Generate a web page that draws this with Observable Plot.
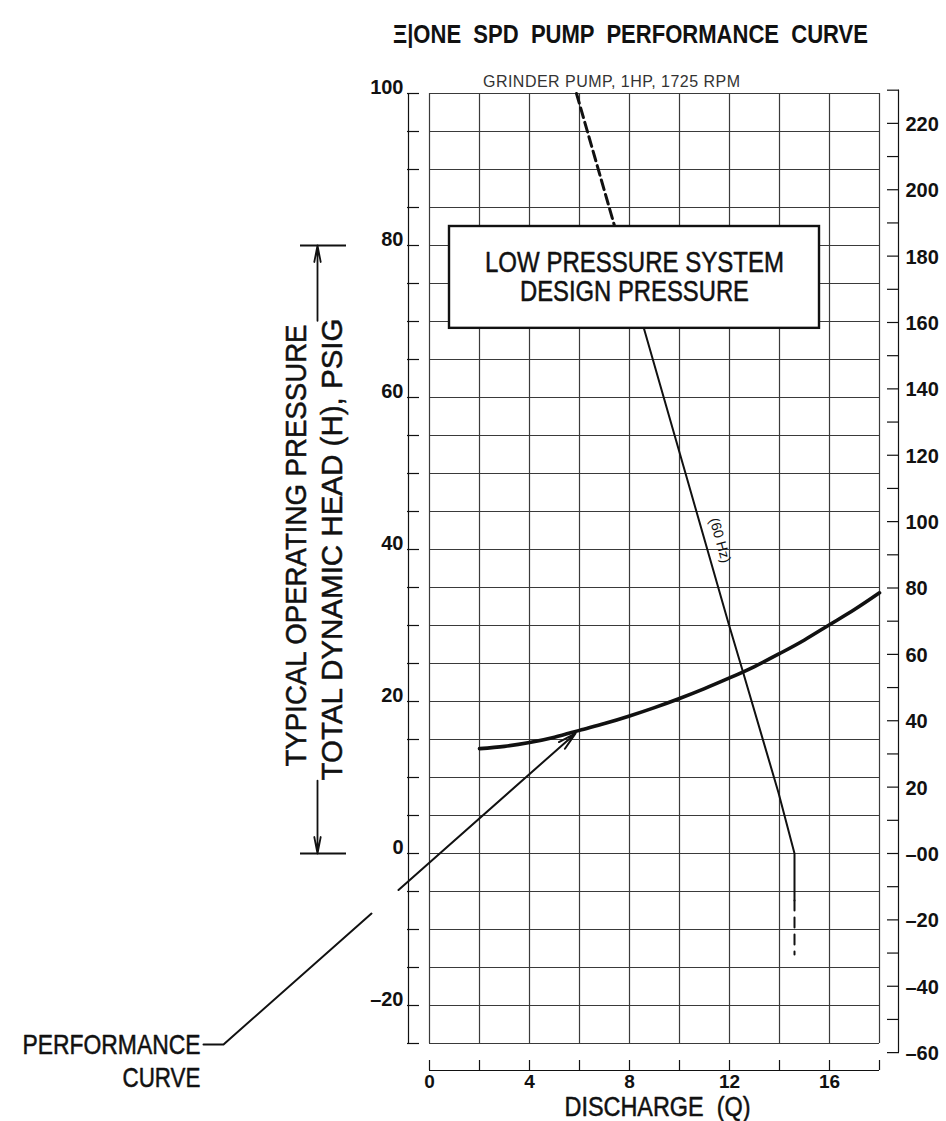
<!DOCTYPE html>
<html>
<head>
<meta charset="utf-8">
<script src="https://cdn.jsdelivr.net/npm/d3@7"></script>
<script src="https://cdn.jsdelivr.net/npm/@observablehq/plot@0.6"></script>
<style>
  html, body { margin: 0; padding: 0; background: #fff; }
  #chart svg { display: block; }
</style>
</head>
<body>
<div id="chart"></div>
<script>
// ---------- texts ----------
const titleText = "Ξ|ONE  SPD  PUMP  PERFORMANCE  CURVE";
const subtitleText = "GRINDER PUMP, 1HP, 1725 RPM";
const xAxisTitle = "DISCHARGE  (Q)";
const yAxisTitle1 = "TYPICAL OPERATING PRESSURE";
const yAxisTitle2 = "TOTAL DYNAMIC HEAD (H), PSIG";
const boxLine1 = "LOW PRESSURE SYSTEM";
const boxLine2 = "DESIGN PRESSURE";
const curveLabel = "(60 Hz)";
const perfLabel1 = "PERFORMANCE";
const perfLabel2 = "CURVE";

// ---------- ticks ----------
const xTicks = [0, 2, 4, 6, 8, 10, 12, 14, 16, 18];
const xLabels = [0, 4, 8, 12, 16];
const psiTicks = [-25, -20, -15, -10, -5, 0, 5, 10, 15, 20, 25, 30, 35, 40, 45, 50, 55, 60, 65, 70, 75, 80, 85, 90, 95, 100];
const psiLabels = [100, 80, 60, 40, 20, 0, -20];
const ftTicks = [-60, -50, -40, -30, -20, -10, 0, 10, 20, 30, 40, 50, 60, 70, 80, 90, 100, 110, 120, 130, 140, 150, 160, 170, 180, 190, 200, 210, 220, 230];
const ftLabels = [220, 200, 180, 160, 140, 120, 100, 80, 60, 40, 20, 0, -20, -40, -60];
const FT_PER_PSI = 2.29; // right scale (feet) read against the left scale (psi)

// ---------- series (Q = discharge, H = psi) ----------
// pump curve, 60 Hz
const pumpTopQ = [5.88, 7.80];
const pumpTopH = [100, 78];
const pumpQ = [7.80, 10.32, 11.96, 12.52, 13.96, 14.60, 14.60];
const pumpH = [78, 49.1, 30.3, 24.1, 8.0, 0, -6.2];
const pumpTailQ = [14.60, 14.60];
const pumpTailH = [-6.2, -13.3];
// system (performance) curve
const sysQ = [2, 3, 4, 5, 6, 7, 8, 9, 10, 11, 12, 13, 14, 15, 16, 17, 18];
const sysH = [13.8, 14.1, 14.6, 15.3, 16.2, 17.1, 18.1, 19.2, 20.4, 21.7, 23.1, 24.6, 26.3, 28.1, 30.1, 32.1, 34.3];

const zip = (qs, hs) => qs.map((q, i) => ({q, h: hs[i]}));

// ---------- annotation layout (in chart units) ----------
const designBox = {q1: 0.8, q2: 15.6, h1: 69.1, h2: 82.5};
const leaderA = [{q: -9.04, h: -25.13}, {q: -8.24, h: -25.13}, {q: -2.32, h: -7.9}];
const leaderB = {q1: -1.24, h1: -4.8, q2: 5.84, h2: 15.8};
const dimQ = -4.48, dimBar1 = -5.16, dimBar2 = -3.32;
const dimLo = 0, dimHi = 80, dimGapLo = 9.6, dimGapHi = 70.1;

const sans = "'Liberation Sans',Arial,sans-serif";
const ink = "#111";
const gridInk = "#3a3a3a";

const fmtFt = f => f === 0 ? "–00" : (f < 0 ? "–" + (-f) : String(f));
const fmtPsi = p => p < 0 ? "–" + (-p) : String(p);

const lettering = {fontFamily: sans, fill: ink, stroke: ink, strokeWidth: 0.5};

const chart = Plot.plot({
  width: 946,
  height: 1121,
  marginLeft: 429,
  marginRight: 67,
  marginTop: 93,
  marginBottom: 78,
  x: {domain: [0, 18], axis: null},
  y: {domain: [-25, 100], axis: null},
  style: {background: "white", color: ink, overflow: "visible"},
  marks: [
    // grid
    Plot.gridX(xTicks, {stroke: gridInk, strokeOpacity: 1, strokeWidth: 1.2}),
    Plot.gridY(psiTicks, {stroke: gridInk, strokeOpacity: 1, strokeWidth: 1.2}),

    // pump curve
    Plot.line(zip(pumpTopQ, pumpTopH), {x: "q", y: "h", stroke: ink, strokeWidth: 3, strokeDasharray: "10,5"}),
    Plot.line(zip(pumpQ, pumpH), {x: "q", y: "h", stroke: ink, strokeWidth: 2}),
    Plot.line(zip(pumpTailQ, pumpTailH), {x: "q", y: "h", stroke: ink, strokeWidth: 2, strokeDasharray: "10,7"}),

    // design pressure box
    Plot.rect([designBox], {x1: "q1", x2: "q2", y1: "h1", y2: "h2", fill: "white", stroke: ink, strokeWidth: 2.4}),
    Plot.text([boxLine1], {x: (designBox.q1 + designBox.q2) / 2, y: 77.8, text: d => d, fontSize: 29, ...lettering}),
    Plot.text([boxLine2], {x: (designBox.q1 + designBox.q2) / 2, y: 73.9, text: d => d, fontSize: 29, ...lettering}),

    // system curve
    Plot.line(zip(sysQ, sysH), {x: "q", y: "h", stroke: ink, strokeWidth: 3.6, curve: "natural"}),

    // curve label
    Plot.text([curveLabel], {x: 11.62, y: 41.2, text: d => d, rotate: 74, fontFamily: sans, fontSize: 14, fill: ink}),

    // performance curve leader
    Plot.line(leaderA, {x: "q", y: "h", stroke: ink, strokeWidth: 2}),
    Plot.arrow([leaderB], {x1: "q1", y1: "h1", x2: "q2", y2: "h2", stroke: ink, strokeWidth: 2, headLength: 14, headAngle: 28}),
    Plot.text([perfLabel1], {x: leaderA[0].q, y: leaderA[0].h, text: d => d, textAnchor: "end", dx: -3, dy: 1, fontSize: 28, ...lettering}),
    Plot.text([perfLabel2], {x: leaderA[0].q, y: leaderA[0].h, text: d => d, textAnchor: "end", dx: -3, dy: 34, fontSize: 28, ...lettering}),

    // left axis (psi)
    Plot.ruleX([0], {y1: -25, y2: 100, dx: -21, stroke: ink, strokeWidth: 1.2}),
    Plot.axisY({anchor: "left", ticks: psiTicks, tickSize: 12, dx: -10, tickFormat: () => "", label: null, stroke: ink, strokeWidth: 1.2}),
    Plot.text(psiLabels, {y: d => d, text: fmtPsi, frameAnchor: "left", dx: -26, dy: -6, textAnchor: "end", lineAnchor: "middle", fontFamily: sans, fontWeight: "bold", fontSize: 20, fill: ink}),

    // right axis (feet)
    Plot.ruleX([18], {y1: -60 / FT_PER_PSI, y2: 230 / FT_PER_PSI, dx: 19, stroke: ink, strokeWidth: 1.2}),
    Plot.axisY({anchor: "right", ticks: ftTicks.map(f => f / FT_PER_PSI), tickSize: 12, dx: 7, tickFormat: () => "", label: null, stroke: ink, strokeWidth: 1.2}),
    Plot.text(ftLabels, {y: f => f / FT_PER_PSI, text: fmtFt, frameAnchor: "right", dx: 26, dy: 1, textAnchor: "start", lineAnchor: "middle", fontFamily: sans, fontWeight: "bold", fontSize: 20, fill: ink}),

    // bottom axis (discharge)
    Plot.ruleY([-25], {x1: 0, x2: 18, dy: 27, stroke: ink, strokeWidth: 1.2}),
    Plot.axisX({anchor: "bottom", ticks: xTicks, tickSize: 10, dy: 17, tickFormat: () => "", label: null, stroke: ink, strokeWidth: 1.2}),
    Plot.text(xLabels, {x: d => d, text: d => String(d), frameAnchor: "bottom", dy: 38, textAnchor: "middle", lineAnchor: "middle", fontFamily: sans, fontWeight: "bold", fontSize: 19, fill: ink}),
    Plot.text([xAxisTitle], {frameAnchor: "bottom", dx: 3, dy: 63.5, textAnchor: "middle", lineAnchor: "middle", text: d => d, fontSize: 27, ...lettering}),

    // dimension line on the left
    Plot.ruleY([dimLo, dimHi], {x1: dimBar1, x2: dimBar2, stroke: ink, strokeWidth: 1.8}),
    Plot.arrow([{y1: dimGapHi, y2: dimHi}, {y1: dimGapLo, y2: dimLo}], {x1: dimQ, x2: dimQ, y1: "y1", y2: "y2", stroke: ink, strokeWidth: 1.8, headLength: 14, headAngle: 22}),
    Plot.text([yAxisTitle1], {frameAnchor: "left", y: 40, dx: -133, dy: -4, textAnchor: "middle", lineAnchor: "middle", text: d => d, rotate: -90, fontSize: 30, ...lettering}),
    Plot.text([yAxisTitle2], {frameAnchor: "left", y: 40, dx: -97, textAnchor: "middle", lineAnchor: "middle", text: d => d, rotate: -90, fontSize: 30, ...lettering}),

    // titles
    Plot.text([titleText], {frameAnchor: "top", dx: -24, dy: -59, textAnchor: "middle", lineAnchor: "middle", text: d => d, fontFamily: sans, fontWeight: "bold", fontSize: 25, fill: ink}),
    Plot.text([subtitleText], {frameAnchor: "top", dx: -43, dy: -12, textAnchor: "middle", lineAnchor: "middle", text: d => d, fontFamily: sans, fontSize: 16, fill: "#333"})
  ]
});

document.getElementById("chart").appendChild(chart);

// fit lettering widths to the drawing (narrow CAD lettering)
const svg = d3.select(chart);
const fit = (str, len, adjust) =>
  svg.selectAll("text")
    .filter(function () { return this.textContent === str; })
    .attr("textLength", len)
    .attr("lengthAdjust", adjust);
fit(titleText, 475, "spacingAndGlyphs");
fit(subtitleText, 257, "spacing");
fit(boxLine1, 299, "spacingAndGlyphs");
fit(boxLine2, 229, "spacingAndGlyphs");
fit(xAxisTitle, 186, "spacingAndGlyphs");
fit(yAxisTitle1, 442, "spacingAndGlyphs");
fit(yAxisTitle2, 462, "spacingAndGlyphs");
fit(perfLabel1, 178, "spacingAndGlyphs");
fit(perfLabel2, 78, "spacingAndGlyphs");
</script>
</body>
</html>
